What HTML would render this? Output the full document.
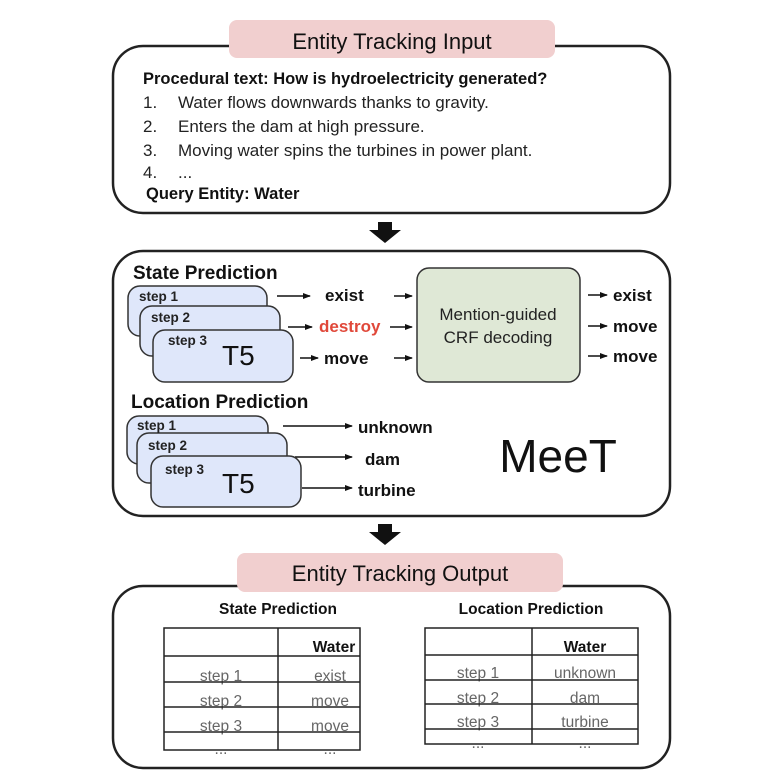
<!DOCTYPE html>
<html><head><meta charset="utf-8"><style>
html,body{margin:0;padding:0;background:#fff;}
svg{display:block;font-family:"Liberation Sans",Arial,sans-serif;}
</style></head><body>
<svg width="782" height="782" viewBox="0 0 782 782">
<defs><marker id="a" markerWidth="8" markerHeight="8" refX="7" refY="4" orient="auto" markerUnits="userSpaceOnUse"><path d="M0,1 L8,4 L0,7 z" fill="#111"/></marker></defs>
<rect x="113" y="46" width="557" height="167" rx="30" fill="#fff" stroke="#222" stroke-width="2.5"/>
<rect x="229" y="20" width="326" height="38" rx="8" fill="#f1cfcf"/>
<text x="392" y="49" font-size="22" text-anchor="middle" fill="#111">Entity Tracking Input</text>
<text x="143" y="84" font-size="16.5" font-weight="bold" fill="#111">Procedural text: How is hydroelectricity generated?</text>
<g font-size="17" fill="#222">
<text x="143" y="108">1.</text><text x="178" y="108">Water flows downwards thanks to gravity.</text>
<text x="143" y="132">2.</text><text x="178" y="132">Enters the dam at high pressure.</text>
<text x="143" y="156">3.</text><text x="178" y="156">Moving water spins the turbines in power plant.</text>
<text x="143" y="178">4.</text><text x="178" y="178">...</text>
</g>
<text x="146" y="199" font-size="16.5" font-weight="bold" fill="#111">Query Entity: Water</text>
<rect x="378" y="222" width="14" height="9" fill="#111"/><path d="M369,230 L401,230 L385,243 z" fill="#111"/>
<rect x="113" y="251" width="557" height="265" rx="30" fill="#fff" stroke="#222" stroke-width="2.5"/>
<text x="133" y="279" font-size="19" font-weight="bold" fill="#111">State Prediction</text>
<g fill="#dfe7fa" stroke="#333" stroke-width="1.5">
<rect x="128" y="286" width="139" height="50" rx="12"/>
<rect x="140" y="306" width="140" height="50" rx="12"/>
<rect x="153" y="330" width="140" height="52" rx="12"/>
</g>
<g font-size="13.5" font-weight="bold" fill="#222">
<text x="139" y="301">step 1</text><text x="151" y="322">step 2</text><text x="168" y="345">step 3</text>
</g>
<text x="222" y="365" font-size="28" fill="#111">T5</text>
<g stroke="#111" stroke-width="1.5" marker-end="url(#a)">
<line x1="277" y1="296" x2="310" y2="296"/>
<line x1="288" y1="327" x2="312" y2="327"/>
<line x1="300" y1="358" x2="318" y2="358"/>
<line x1="394" y1="296" x2="412" y2="296"/>
<line x1="390" y1="327" x2="412" y2="327"/>
<line x1="394" y1="358" x2="412" y2="358"/>
<line x1="588" y1="295" x2="607" y2="295"/>
<line x1="588" y1="326" x2="607" y2="326"/>
<line x1="588" y1="356" x2="607" y2="356"/>
<line x1="283" y1="426" x2="352" y2="426"/>
<line x1="295" y1="457" x2="352" y2="457"/>
<line x1="302" y1="488" x2="352" y2="488"/>
</g>
<g font-size="17" font-weight="bold" fill="#111">
<text x="325" y="301">exist</text>
<text x="319" y="332" fill="#e0483a">destroy</text>
<text x="324" y="364">move</text>
<text x="613" y="301">exist</text>
<text x="613" y="332">move</text>
<text x="613" y="362">move</text>
<text x="358" y="433">unknown</text>
<text x="365" y="465">dam</text>
<text x="358" y="496">turbine</text>
</g>
<rect x="417" y="268" width="163" height="114" rx="12" fill="#dfe8d6" stroke="#333" stroke-width="1.5"/>
<text x="498" y="320" font-size="17" text-anchor="middle" fill="#222">Mention-guided</text>
<text x="498" y="343" font-size="17" text-anchor="middle" fill="#222">CRF decoding</text>
<text x="131" y="408" font-size="19" font-weight="bold" fill="#111">Location Prediction</text>
<g fill="#dfe7fa" stroke="#333" stroke-width="1.5">
<rect x="127" y="416" width="141" height="48" rx="12"/>
<rect x="137" y="433" width="150" height="50" rx="12"/>
<rect x="151" y="456" width="150" height="51" rx="12"/>
</g>
<g font-size="13.5" font-weight="bold" fill="#222">
<text x="137" y="430">step 1</text><text x="148" y="450">step 2</text><text x="165" y="474">step 3</text>
</g>
<text x="222" y="493" font-size="28" fill="#111">T5</text>
<text x="558" y="472" font-size="46" text-anchor="middle" fill="#111">MeeT</text>
<rect x="378" y="524" width="14" height="9" fill="#111"/><path d="M369,532 L401,532 L385,545 z" fill="#111"/>
<rect x="113" y="586" width="557" height="182" rx="30" fill="#fff" stroke="#222" stroke-width="2.5"/>
<rect x="237" y="553" width="326" height="39" rx="8" fill="#f1cfcf"/>
<text x="400" y="581" font-size="22" text-anchor="middle" fill="#111">Entity Tracking Output</text>
<text x="278" y="614" font-size="15.5" font-weight="bold" text-anchor="middle" fill="#111">State Prediction</text>
<text x="531" y="614" font-size="15.5" font-weight="bold" text-anchor="middle" fill="#111">Location Prediction</text>
<g font-size="15.5" fill="#666" text-anchor="middle">
<text x="221" y="681">step 1</text><text x="330" y="681">exist</text>
<text x="221" y="706">step 2</text><text x="330" y="706">move</text>
<text x="221" y="731">step 3</text><text x="330" y="731">move</text>
<text x="221" y="754">...</text><text x="330" y="754">...</text>
<text x="478" y="678">step 1</text><text x="585" y="678">unknown</text>
<text x="478" y="703">step 2</text><text x="585" y="703">dam</text>
<text x="478" y="727">step 3</text><text x="585" y="727">turbine</text>
<text x="478" y="748">...</text><text x="585" y="748">...</text>
</g>
<g font-size="15.5" font-weight="bold" fill="#111" text-anchor="middle">
<text x="334" y="652">Water</text><text x="585" y="652">Water</text>
</g>
<g stroke="#222" stroke-width="1.5" fill="none">
<rect x="164" y="628" width="196" height="122"/>
<line x1="278" y1="628" x2="278" y2="750"/>
<line x1="164" y1="656" x2="360" y2="656"/>
<line x1="164" y1="682" x2="360" y2="682"/>
<line x1="164" y1="707" x2="360" y2="707"/>
<line x1="164" y1="732" x2="360" y2="732"/>
<rect x="425" y="628" width="213" height="116"/>
<line x1="532" y1="628" x2="532" y2="744"/>
<line x1="425" y1="655" x2="638" y2="655"/>
<line x1="425" y1="680" x2="638" y2="680"/>
<line x1="425" y1="704" x2="638" y2="704"/>
<line x1="425" y1="729" x2="638" y2="729"/>
</g>
</svg>
</body></html>
